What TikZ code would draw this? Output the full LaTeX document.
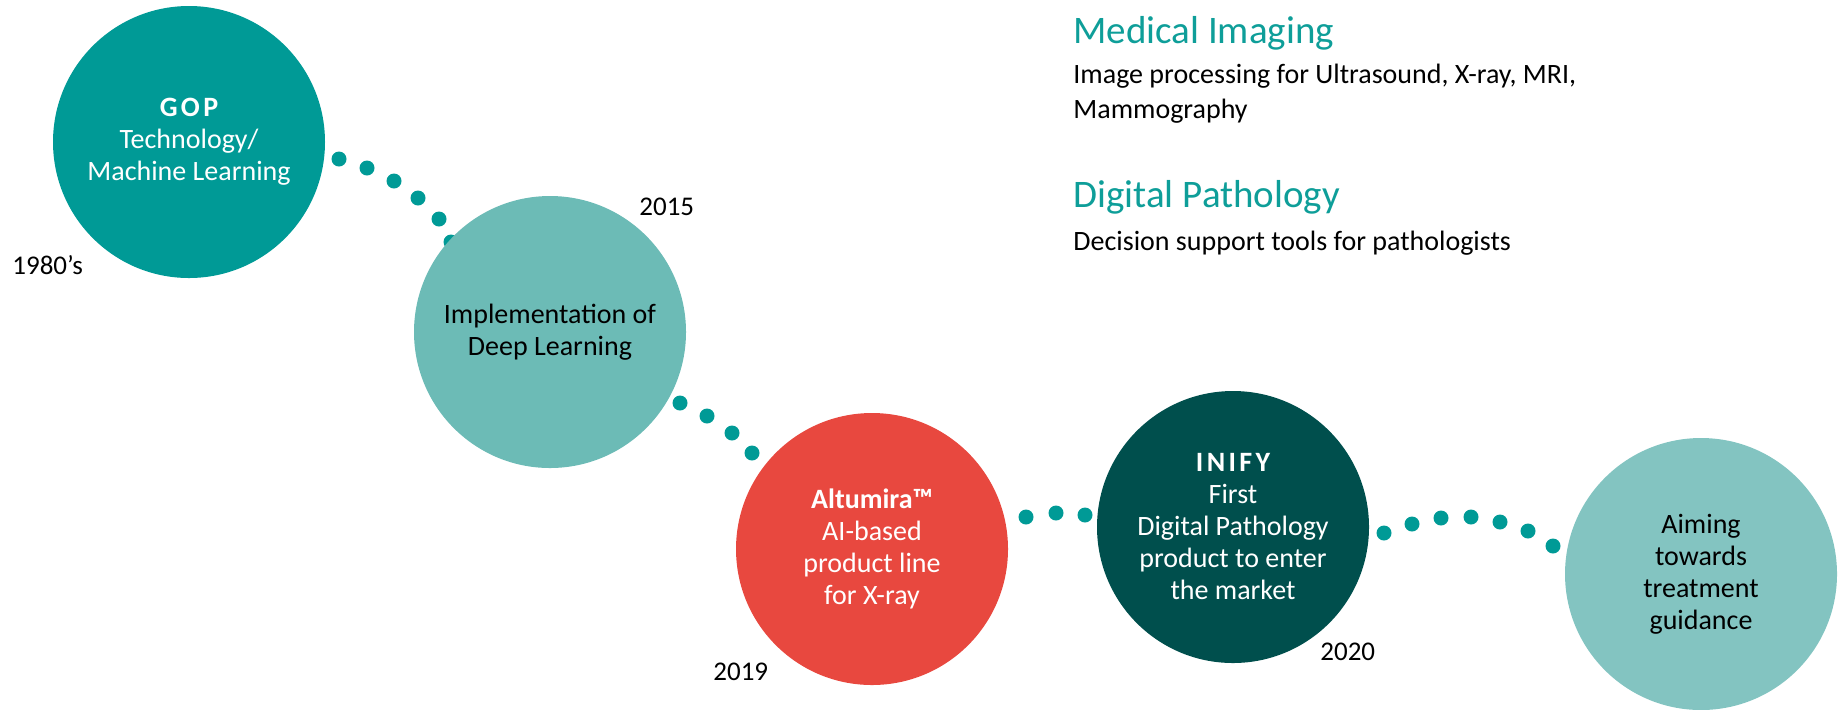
\documentclass[tikz,border=0pt]{standalone}
\usepackage{fontspec}
\setmainfont{Carlito}
\definecolor{tealA}{HTML}{009A96}
\definecolor{tealB}{HTML}{6CBBB6}
\definecolor{redC}{HTML}{E8483F}
\definecolor{darkD}{HTML}{004F4D}
\definecolor{tealE}{HTML}{83C4C1}
\definecolor{dotcol}{HTML}{009A96}
\definecolor{headcol}{HTML}{0E9E99}
\newcommand{\spaced}[1]{{\bfseries\addfontfeatures{LetterSpace=12}#1}}
\begin{document}
\begin{tikzpicture}[x=0.5pt,y=-0.5pt,
  bub/.style={circle, minimum size=136pt, inner sep=0pt, align=center,
    font=\fontsize{14}{16}\selectfont},
  dotc/.style={fill=dotcol},
  year/.style={anchor=base west, inner sep=0pt, font=\fontsize{13.5}{16}\selectfont},
  head/.style={anchor=base west, inner sep=0pt, text=headcol, font=\fontsize{19.5}{22}\selectfont},
  body/.style={anchor=base west, inner sep=0pt, font=\fontsize{14}{17.5}\selectfont}]
\useasboundingbox (0,0) rectangle (1839,709);
% dotted connectors (drawn behind the circles)
\foreach \p in {(339,159),(367,168),(394,181),(418,198),(439,219),(451,242),
                (680,403),(707,416),(732,433),(752,453),(768,476),
                (1026,517),(1056,513),(1085,515),(1114,518),
                (1384,533),(1412,524),(1441,518),(1471,517),(1500,522),(1528,531),(1553,546),(1575,563)}
  \fill[dotc] \p circle[radius=7.5];
% milestones
\node[bub, fill=tealA, text=white] (c1) at (189,142) {\spaced{GOP}\\Technology/\\Machine Learning};
\node[bub, fill=tealB, text=black] (c2) at (550,332) {Implementation of\\Deep Learning};
\node[bub, fill=redC, text=white] (c3) at (872,549) {\textbf{Altumira™}\\AI-based\\product line\\for X-ray};
\node[bub, fill=darkD, text=white] (c4) at (1233,527) {\spaced{INIFY}\\First\\Digital Pathology\\product to enter\\the market};
\node[bub, fill=tealE, text=black] (c5) at (1701,574) {Aiming\\towards\\treatment\\guidance};
% years
\node[year] (y1) at (12,274) {1980’s};
\node[year] (y2) at (639,215) {2015};
\node[year] (y3) at (713,680) {2019};
\node[year] (y4) at (1320,660) {2020};
% legend text
\node[head] (h1) at (1073,43) {Medical Imaging};
\node[body] (b1) at (1073,83) {Image processing for Ultrasound, X-ray, MRI,};
\node[body] (b2) at (1073,118) {Mammography};
\node[head] (h2) at (1073,207) {Digital Pathology};
\node[body] (b3) at (1073,250) {Decision support tools for pathologists};
\end{tikzpicture}
\end{document}
